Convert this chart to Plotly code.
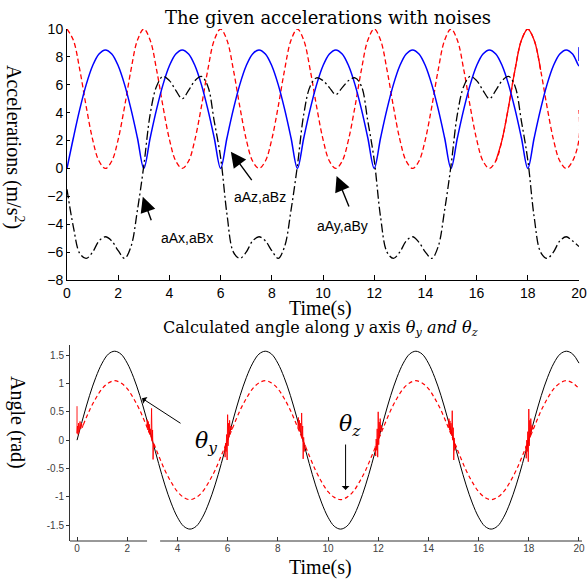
import plotly.graph_objects as go

# ---------------- data: top panel (accelerations) ----------------
t_top = [round(i * 0.25, 2) for i in range(81)]

accel_red = [
    10, 9.19, 7.07, 4.44, 2.09, 0.53, 0, 0.53, 2.09, 4.44, 7.07, 9.19,
    10, 9.19, 7.07, 4.44, 2.09, 0.53, 0, 0.53, 2.09, 4.44, 7.07, 9.19,
    10, 9.19, 7.07, 4.44, 2.09, 0.53, 0, 0.53, 2.09, 4.44, 7.07, 9.19,
    10, 9.19, 7.07, 4.44, 2.09, 0.53, 0, 0.53, 2.09, 4.44, 7.07, 9.19,
    10, 9.19, 7.07, 4.44, 2.09, 0.53, 0, 0.53, 2.09, 4.44, 7.07, 9.19,
    10, 9.19, 7.07, 4.44, 2.09, 0.53, 0, 0.53, 2.09, 4.44, 7.07, 9.19,
    10, 9.19, 7.07, 4.44, 2.09, 0.53, 0, 0.53, 2.09,
]
accel_blue = [
    0, 2.2, 4.25, 6.01, 7.36, 8.21, 8.5, 8.21, 7.36, 6.01, 4.25, 2.2,
    0, 2.2, 4.25, 6.01, 7.36, 8.21, 8.5, 8.21, 7.36, 6.01, 4.25, 2.2,
    0, 2.2, 4.25, 6.01, 7.36, 8.21, 8.5, 8.21, 7.36, 6.01, 4.25, 2.2,
    0, 2.2, 4.25, 6.01, 7.36, 8.21, 8.5, 8.21, 7.36, 6.01, 4.25, 2.2,
    0, 2.2, 4.25, 6.01, 7.36, 8.21, 8.5, 8.21, 7.36, 6.01, 4.25, 2.2,
    0, 2.2, 4.25, 6.01, 7.36, 8.21, 8.5, 8.21, 7.36, 6.01, 4.25, 2.2,
    0, 2.2, 4.25, 6.01, 7.36, 8.21, 8.5, 8.21, 7.36,
]
accel_black = [
    -1.5, -4.2, -6.1, -6.45, -6.0, -5.2, -4.9, -5.2, -5.9, -6.45, -5.6, -3.0,
    0.2, 3.9, 5.9, 6.6, 6.3, 5.6, 5.0, 5.6, 6.3, 6.6, 5.9, 3.4,
    0.8, -3.3, -6.0, -6.45, -6.0, -5.2, -4.9, -5.2, -5.9, -6.45, -5.6, -3.0,
    0.2, 3.9, 5.9, 6.5, 6.3, 5.8, 5.3, 5.8, 6.3, 6.5, 5.9, 3.4,
    0.6, -3.5, -6.0, -6.45, -6.0, -5.2, -4.9, -5.3, -6.0, -6.45, -5.6, -3.0,
    0.2, 3.9, 5.9, 6.6, 6.3, 5.6, 5.0, 5.6, 6.3, 6.6, 5.9, 3.4,
    0.6, -3.5, -6.0, -6.45, -6.0, -5.2, -4.9, -5.2, -5.6,
]
# end-of-record artefacts at t = 20
red_end_t = [20.0]
red_end = [4.2]
blue_end_t = [20.0, 20.0]
blue_end = [8.7, 7.7]

# ---------------- data: bottom panel (angles) ----------------
t_bot = [round(i * 0.25, 2) for i in range(81)]
theta_y = [
    0, 0.41, 0.79, 1.11, 1.36, 1.52, 1.57, 1.52, 1.36, 1.11, 0.79, 0.41,
    0, -0.41, -0.79, -1.11, -1.36, -1.52, -1.57, -1.52, -1.36, -1.11, -0.79, -0.41,
    0, 0.41, 0.79, 1.11, 1.36, 1.52, 1.57, 1.52, 1.36, 1.11, 0.79, 0.41,
    0, -0.41, -0.79, -1.11, -1.36, -1.52, -1.57, -1.52, -1.36, -1.11, -0.79, -0.41,
    0, 0.41, 0.79, 1.11, 1.36, 1.52, 1.57, 1.52, 1.36, 1.11, 0.79, 0.41,
    0, -0.41, -0.79, -1.11, -1.36, -1.52, -1.57, -1.52, -1.36, -1.11, -0.79, -0.41,
    0, 0.41, 0.79, 1.11, 1.36, 1.52, 1.57, 1.52, 1.36,
]
theta_z = [
    0, 0.27, 0.53, 0.74, 0.91, 1.01, 1.05, 1.01, 0.91, 0.74, 0.53, 0.27,
    0, -0.27, -0.53, -0.74, -0.91, -1.01, -1.05, -1.01, -0.91, -0.74, -0.53, -0.27,
    0, 0.27, 0.53, 0.74, 0.91, 1.01, 1.05, 1.01, 0.91, 0.74, 0.53, 0.27,
    0, -0.27, -0.53, -0.74, -0.91, -1.01, -1.05, -1.01, -0.91, -0.74, -0.53, -0.27,
    0, 0.27, 0.53, 0.74, 0.91, 1.01, 1.05, 1.01, 0.91, 0.74, 0.53, 0.27,
    0, -0.27, -0.53, -0.74, -0.91, -1.01, -1.05, -1.01, -0.91, -0.74, -0.53, -0.27,
    0, 0.27, 0.53, 0.74, 0.91, 1.01, 1.05, 1.01, 0.91,
]
# noisy bursts of theta_z near the zero crossings
noise_t = [
    0.0, 0.0, 0.02, 0.04, 0.06, 0.08, 0.1, 0.12, 0.15, 0.18, 0.21, 0.25, None,
    2.78, 2.8, 2.82, 2.84, 2.86, 2.88, 2.9, 2.93, 2.95, 2.97, 2.99, 3.01, 3.03, 3.05, 3.08, 3.11, None,
    5.88, 5.9, 5.92, 5.94, 5.96, 5.98, 6.0, 6.02, 6.04, 6.06, 6.08, 6.1, 6.13, 6.16, 6.2, None,
    8.8, 8.82, 8.84, 8.86, 8.88, 8.9, 8.93, 8.95, 8.97, 8.99, 9.01, 9.03, 9.05, 9.08, 9.12, None,
    11.88, 11.9, 11.92, 11.94, 11.96, 11.98, 12.0, 12.02, 12.04, 12.06, 12.08, 12.1, 12.13, 12.16, 12.2, None,
    14.8, 14.82, 14.84, 14.86, 14.88, 14.9, 14.93, 14.95, 14.97, 14.99, 15.01, 15.03, 15.05, 15.08, 15.12, None,
    17.88, 17.9, 17.92, 17.94, 17.96, 17.98, 18.0, 18.02, 18.04, 18.06, 18.08, 18.1, 18.13, 18.16, 18.2,
]
noise_v = [
    0.6, 0.12, 0.25, 0.1, 0.3, 0.14, 0.22, 0.33, 0.2, 0.3, 0.22, 0.27, None,
    0.24, 0.36, 0.18, 0.33, 0.14, 0.28, 0.12, 0.2, 0.05, 0.56, -0.02, 0.18, -0.34, -0.05, -0.12, -0.1, None,
    -0.12, -0.3, -0.05, -0.2, 0.1, -0.35, 0.45, -0.1, 0.3, 0.05, 0.35, 0.15, 0.25, 0.18, 0.22, None,
    0.22, 0.4, 0.2, 0.35, 0.15, 0.3, 0.1, 0.48, 0.02, 0.25, -0.33, 0.05, -0.2, -0.08, -0.12, None,
    -0.1, -0.28, 0.02, -0.18, 0.2, -0.3, 0.5, -0.08, 0.32, 0.08, 0.38, 0.16, 0.26, 0.18, 0.21, None,
    0.22, 0.38, 0.18, 0.34, 0.12, 0.3, 0.08, 0.52, 0.0, 0.22, -0.35, 0.04, -0.18, -0.08, -0.13, None,
    -0.1, -0.32, 0.0, -0.2, 0.15, -0.38, 0.55, -0.1, 0.35, 0.05, 0.38, 0.15, 0.26, 0.19, 0.22,
]

top_xticks = [0, 2, 4, 6, 8, 10, 12, 14, 16, 18, 20]
top_yticks = [-8, -6, -4, -2, 0, 2, 4, 6, 8, 10]
bot_xticks = [0, 2, 4, 6, 8, 10, 12, 14, 16, 18, 20]
bot_yticks = [-1.5, -1, -0.5, 0, 0.5, 1, 1.5]
bot_yticklabels = ["-1.5", "-1", "-0.5", "0", "0.5", "1", "1.5"]

W, H = 587, 579
SERIF_W = "DejaVu Serif"
SERIF = "Liberation Serif"
SANS = "Liberation Sans"

def px(x):
    return x / W

def py(y):
    return 1 - y / H

fig = go.Figure()

# top panel traces
fig.add_trace(go.Scatter(x=t_top + red_end_t, y=accel_red + red_end, mode="lines",
                         line=dict(color="#ff0000", width=1.3, dash="5px,3px", shape="spline"),
                         xaxis="x", yaxis="y"))
fig.add_trace(go.Scatter(x=t_top[67:75], y=accel_red[67:75], mode="lines",
                         line=dict(color="#ff0000", width=1.3, shape="spline"),
                         xaxis="x", yaxis="y"))
fig.add_trace(go.Scatter(x=t_top + blue_end_t, y=accel_blue + blue_end, mode="lines",
                         line=dict(color="#0000ff", width=1.5, shape="spline"),
                         xaxis="x", yaxis="y"))
fig.add_trace(go.Scatter(x=t_top, y=accel_black, mode="lines",
                         line=dict(color="#000000", width=1.3, dash="9px,3px,2px,3px", shape="spline"),
                         xaxis="x", yaxis="y"))

# bottom panel traces
fig.add_trace(go.Scatter(x=t_bot, y=theta_y, mode="lines",
                         line=dict(color="#000000", width=1, shape="spline"),
                         xaxis="x2", yaxis="y2"))
fig.add_trace(go.Scatter(x=t_bot[1:], y=theta_z[1:], mode="lines",
                         line=dict(color="#ff0000", width=1.2, dash="4px,3px", shape="spline"),
                         xaxis="x2", yaxis="y2"))
fig.add_trace(go.Scatter(x=noise_t, y=noise_v, mode="lines", connectgaps=False,
                         line=dict(color="#ff0000", width=0.9),
                         xaxis="x2", yaxis="y2"))

annotations = []

def txt(text, x, y, size, family=SERIF, angle=0, color="#000000"):
    annotations.append(dict(text=text, x=px(x), y=py(y), xref="paper", yref="paper",
                            showarrow=False, xanchor="center", yanchor="middle",
                            textangle=angle, font=dict(family=family, size=size, color=color)))

# titles and axis labels
txt("The given accelerations with noises", 328, 17, 18, family=SERIF_W)
txt("Time(s)", 320, 308, 20)
txt("Calculated angle along <i>y</i> axis <i>θ<sub>y</sub> and θ<sub>z</sub></i>", 320, 328, 16, family=SERIF_W)
txt("Time(s)", 320, 567, 20)
txt("Accelerations (m/s<sup>2</sup>)", 15, 147, 20, angle=90)
txt("Angle (rad)", 18, 422, 20, angle=90)

# curve labels
txt("aAx,aBx", 187, 238, 14, family=SANS)
txt("aAz,aBz", 260, 197, 14, family=SANS)
txt("aAy,aBy", 342, 226, 14, family=SANS)
txt("<i>θ</i><sub><i>y</i></sub>", 206, 442, 22, family=SERIF_W)
txt("<i>θ</i><sub><i>z</i></sub>", 350, 425, 22, family=SERIF_W)

# arrows
def arrow(x, y, ax, ay, xr, yr, head, size, width):
    annotations.append(dict(text="", x=x, y=y, xref=xr, yref=yr, ax=ax, ay=ay,
                            showarrow=True, arrowhead=head, arrowsize=size,
                            arrowwidth=width, arrowcolor="#000000"))

arrow(2.96, -2.03, 9, 25, "x", "y", 2, 2.2, 1.4)
arrow(6.40, 1.20, 22, 30, "x", "y", 2, 2.2, 1.4)
arrow(10.53, -0.54, 13, 32, "x", "y", 2, 2.2, 1.4)
arrow(2.59, 0.74, 40, 26, "x2", "y2", 1, 1.3, 1)
arrow(10.7, -0.88, 0, -47, "x2", "y2", 1, 1.3, 1)

shapes = [
    dict(type="line", xref="x2", yref="paper", x0=-0.28, x1=2.79, y0=py(541), y1=py(541),
         line=dict(color="#333333", width=1)),
    dict(type="line", xref="x2", yref="paper", x0=3.31, x1=20.12, y0=py(541), y1=py(541),
         line=dict(color="#333333", width=1)),
]

fig.update_layout(
    width=W, height=H,
    margin=dict(l=0, r=0, t=0, b=0, autoexpand=False),
    paper_bgcolor="white", plot_bgcolor="white",
    showlegend=False,
    annotations=annotations,
    shapes=shapes,
    xaxis=dict(domain=[px(67), px(579)], range=[0, 20], anchor="y", automargin=False,
               tickmode="array", tickvals=top_xticks, ticks="inside", ticklen=5,
               tickcolor="#000", showline=True, linecolor="#000", linewidth=1,
               showgrid=False, zeroline=False,
               tickfont=dict(family=SANS, size=14, color="#000")),
    yaxis=dict(domain=[py(280), py(29)], range=[-8, 10], anchor="x", automargin=False,
               tickmode="array", tickvals=top_yticks, ticks="inside", ticklen=3,
               tickcolor="#000", showline=True, linecolor="#000", linewidth=1,
               showgrid=False, zeroline=False,
               tickfont=dict(family=SANS, size=14, color="#000")),
    xaxis2=dict(domain=[px(70), px(582)], range=[-0.28, 20.12], anchor="y2", automargin=False,
                tickmode="array", tickvals=bot_xticks, ticks="inside", ticklen=4,
                tickcolor="#333", showline=False, showgrid=False, zeroline=False,
                tickfont=dict(family=SANS, size=10, color="#404040")),
    yaxis2=dict(domain=[py(541), py(345)], range=[-1.78, 1.68], anchor="x2", automargin=False,
                tickmode="array", tickvals=bot_yticks, ticktext=bot_yticklabels,
                ticks="outside", ticklen=3, tickcolor="#333",
                showline=True, linecolor="#333", linewidth=1,
                showgrid=False, zeroline=False,
                tickfont=dict(family=SANS, size=10, color="#404040")),
)

fig.write_html("out.html", config={"displayModeBar": False},
               post_script="document.body.style.margin='0';document.body.style.overflow='hidden';")
